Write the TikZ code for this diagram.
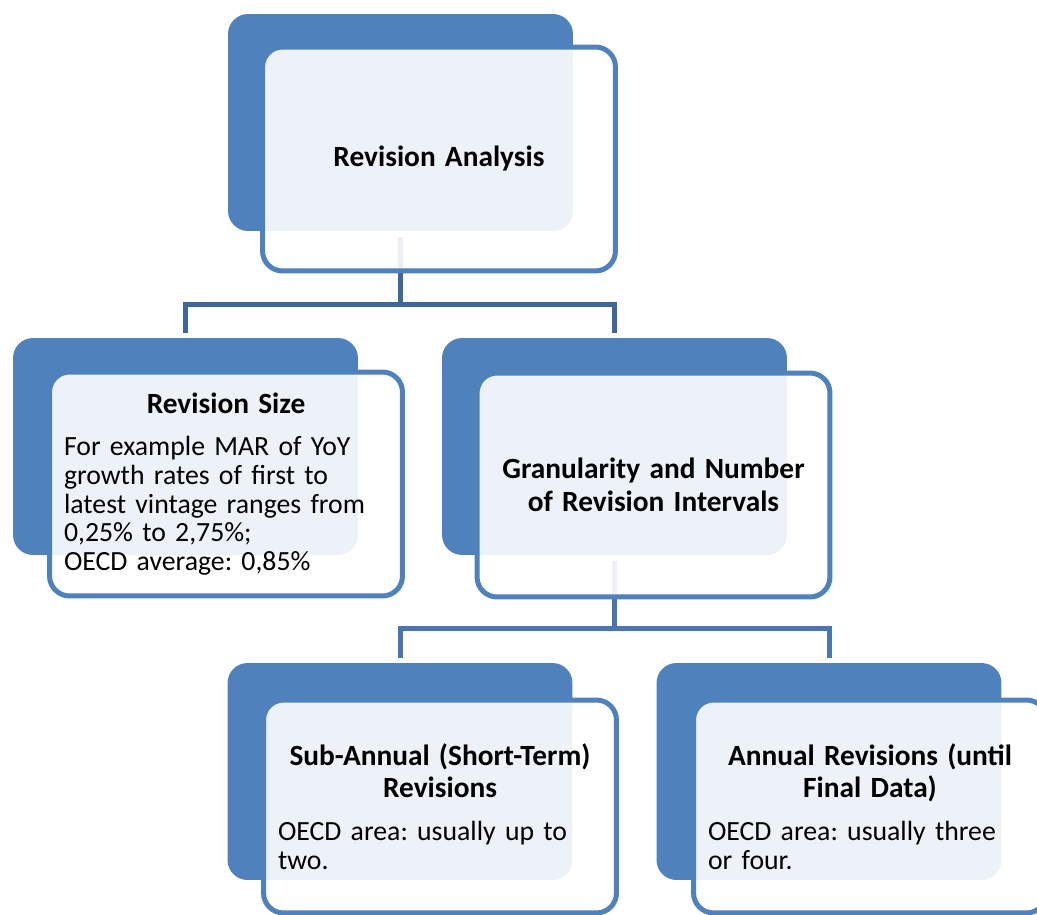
\documentclass[tikz,border=0pt]{standalone}
\usepackage{fontspec}
\setmainfont{Carlito}
\frenchspacing
\definecolor{accent}{HTML}{4F81BD}
\definecolor{linkdark}{HTML}{40679A}
\definecolor{linkmid}{HTML}{4A76B0}
\newcommand{\boxhead}[1]{{\centering\fontsize{16.7}{18.5}\selectfont\bfseries #1\par}}
\newcommand{\boxbody}{\vspace{8pt}}
\begin{document}
\begin{tikzpicture}[x=0.02cm, y=-0.02cm,
    backbox/.style={rectangle, rounded corners=0.4cm, fill=accent, minimum width=6.9cm, minimum height=4.34cm},
    frontbox/.style={rectangle, rounded corners=0.4cm, draw=accent, line width=0.1cm, fill=white, fill opacity=0.9, text opacity=1, text width=6.48cm, inner xsep=0.29cm, inner ysep=0pt, minimum height=4.48cm, align=left, font=\fontsize{15.8}{16.3}\selectfont},
    link/.style={line width=0.1cm, shorten <=0.12cm, shorten >=0.1cm}]
    \useasboundingbox (0,0) rectangle (1037,915);

    \node (rootb) at (400.5,122.5) [backbox] {};
    \node (sizeb) at (185.5,446.5) [backbox] {};
    \node (granb) at (614.5,446.5) [backbox] {};
    \node (subb) at (400,771.5) [backbox] {};
    \node (annb) at (829,771.5) [backbox] {};

    \draw[link, linkdark] (rootb.south) -- ++(0,73.5) -| (sizeb.north);
    \draw[link, linkdark] (rootb.south) -- ++(0,73.5) -| (granb.north);
    \draw[link, linkmid] (granb.south) -- ++(0,73.5) -| (subb.north);
    \draw[link, linkmid] (granb.south) -- ++(0,73.5) -| (annb.north);

    \node (root) at (439,159) [frontbox] {\boxhead{Revision Analysis}};
    \node (size) at (226,484) [frontbox] {\boxhead{Revision Size}\boxbody
        For example MAR of YoY\\ growth rates of first to\\ latest vintage ranges from\\ 0,25\% to 2,75\%;\\ OECD average: 0,85\%\par};
    \node (gran) at (653.5,485) [frontbox] {\boxhead{Granularity and Number\\ of Revision Intervals}};
    \node (sub) at (440,806.5) [frontbox, minimum height=4.26cm] {\boxhead{Sub-Annual (Short-Term)\\ Revisions}\boxbody
        OECD area: usually up to\\ two.\par};
    \node (ann) at (870,806.5) [frontbox, minimum height=4.26cm] {\boxhead{Annual Revisions (until\\ Final Data)}\boxbody
        OECD area: usually three\\ or four.\par};
\end{tikzpicture}
\end{document}
